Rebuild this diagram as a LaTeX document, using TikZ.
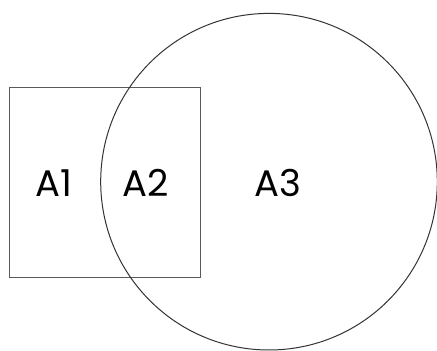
\documentclass[tikz,border=0pt]{standalone}
\usepackage{fontspec}
\setmainfont{Poppins}
\begin{document}
\begin{tikzpicture}[x=1pt,y=1pt,
  shape line/.style={draw=black!80, line width=1pt, inner sep=0pt, outer sep=0pt},
  label text/.style={font=\fontsize{37}{42}\selectfont, text=black, inner sep=0pt}]
\useasboundingbox (0,0) rectangle (437,351);
\node (sq) [shape line, draw=black!65, rectangle, minimum width=191.3pt, minimum height=189.3pt] at (104.65,168.35) {};
\node (circ) [shape line, circle, minimum size=336.6pt] at (269,169.3) {};
\node (a1) [label text] at (54,168) {A1};
\node (a2) [label text] at (146,168) {A2};
\node (a3) [label text] at (278,168) {A3};
\end{tikzpicture}
\end{document}
